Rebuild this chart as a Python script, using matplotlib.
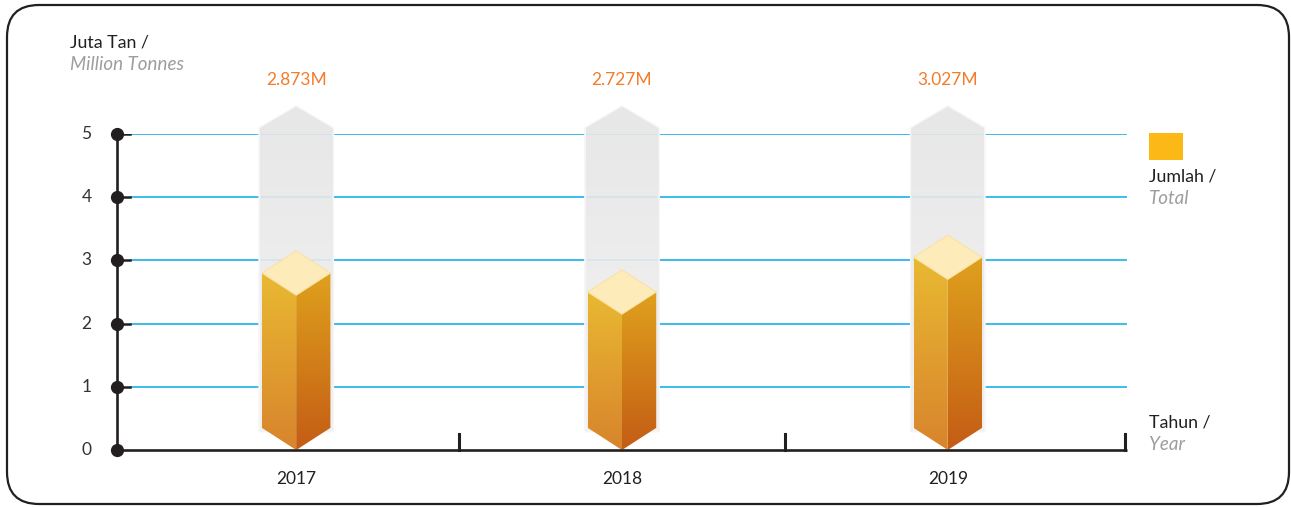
import matplotlib.pyplot as plt
import numpy as np
from matplotlib.patches import Polygon, FancyBboxPatch
from matplotlib.colors import LinearSegmentedColormap
from matplotlib.transforms import IdentityTransform

plt.rcParams['font.family'] = ['Lato', 'DejaVu Sans']

# data
years = ['2017', '2018', '2019']
value_labels = ['2.873M', '2.727M', '3.027M']
bar_tops = [2.80, 2.50, 3.05]      # drawn height of the gold bars (million tonnes)
y_ticks = [0, 1, 2, 3, 4, 5]

W, H = 1291, 507
BLUE = '#2BB8EC'
DARK = '#231F20'
ORANGE = '#F47B2A'
GREY_TXT = '#9D9D9D'

fig = plt.figure(figsize=(W / 100, H / 100), dpi=100)
fig.patch.set_facecolor('white')

# axes: x -0.55..2.55 -> px 117..1127, y 0..5 -> px 450..134
ax = fig.add_axes([117 / W, (H - 450) / H, (1127 - 117) / W, (450 - 134) / H])
ax.set_xlim(-0.55, 2.55)
ax.set_ylim(0, 5)
ax.axis('off')

# rounded frame around the whole chart
frame = FancyBboxPatch((7, 3), 1282, 499, boxstyle='round,pad=0,rounding_size=32',
                       transform=IdentityTransform(), fill=False,
                       edgecolor=DARK, linewidth=1.6)
fig.patches.append(frame)

# grid lines + dots
for t in y_ticks:
    if t > 0:
        ax.plot([-0.51, 2.55], [t, t], color=BLUE, lw=1.3, zorder=1, solid_capstyle='butt')
        ax.plot([-0.55, -0.51], [t, t], color=DARK, lw=1.8, zorder=1)
    ax.plot([-0.55], [t], 'o', color=DARK, markersize=8.5, zorder=6, clip_on=False)
    ax.text(-0.644, t, str(t), ha='center', va='center', fontsize=12.5, color='#333333')

# axes lines
ax.plot([-0.55, -0.55], [0, 5], color=DARK, lw=1.9, zorder=5, clip_on=False)
ax.plot([-0.55, 2.55], [0, 0], color=DARK, lw=1.9, zorder=5, clip_on=False,
        solid_capstyle='butt')
for tx in [0.5, 1.5, 2.545]:
    ax.plot([tx, tx], [0, 0.25], color=DARK, lw=2.2, zorder=5, clip_on=False)

hw = 0.105   # half width of gold bar
gw = 0.112   # half width of grey shadow bar
d = 0.35     # half height of diamond top / bottom bevel

left_cmap = LinearSegmentedColormap.from_list('l', ['#D8842C', '#E9B932'])
right_cmap = LinearSegmentedColormap.from_list('r', ['#C45C15', '#DFA11D'])
grey_cmap = LinearSegmentedColormap.from_list('g', ['#F1F1F1', '#E6E5E6'])
grad = np.linspace(0, 1, 256).reshape(-1, 1)

for i, (yr, lab, h) in enumerate(zip(years, value_labels, bar_tops)):
    x = i
    # grey background bar
    gpts = [(x - gw, 0.3), (x - gw, 5.09), (x, 5.43), (x + gw, 5.09), (x + gw, 0.3)]
    gpoly = Polygon(gpts, closed=True, facecolor='none', edgecolor='#F5F5F5',
                    lw=2, zorder=2, clip_on=False, joinstyle='round')
    ax.add_patch(gpoly)
    im = ax.imshow(grad, extent=[x - gw, x + gw, 0.3, 5.43], origin='lower',
                   aspect='auto', cmap=grey_cmap, alpha=0.9, zorder=2)
    im.set_clip_box(fig.bbox)
    im.set_clip_path(gpoly)

    # gold left face
    lpoly = Polygon([(x - hw, h), (x, h - d), (x, 0), (x - hw, d)], closed=True,
                    facecolor='none', edgecolor='none', zorder=3)
    ax.add_patch(lpoly)
    im = ax.imshow(grad, extent=[x - hw, x, 0, h], origin='lower', aspect='auto',
                   cmap=left_cmap, zorder=3)
    im.set_clip_path(lpoly)

    # gold right face
    rpoly = Polygon([(x, h - d), (x + hw, h), (x + hw, d), (x, 0)], closed=True,
                    facecolor='none', edgecolor='none', zorder=3)
    ax.add_patch(rpoly)
    im = ax.imshow(grad, extent=[x, x + hw, 0, h], origin='lower', aspect='auto',
                   cmap=right_cmap, zorder=3)
    im.set_clip_path(rpoly)

    # top face
    ax.add_patch(Polygon([(x - hw, h), (x, h + d), (x + hw, h), (x, h - d)], closed=True,
                         facecolor='#FDEBBA', edgecolor='#F9E2A6', lw=0.8, zorder=4))

    ax.text(x, 5.85, lab, ha='center', va='center', fontsize=12.5, color=ORANGE)
    ax.text(x, -0.46, yr, ha='center', va='center', fontsize=12.5, color=DARK)

ax.set_xlim(-0.55, 2.55)
ax.set_ylim(0, 5)

# titles and legend texts
fig.text(70 / W, 1 - 42 / H, 'Juta Tan /', ha='left', va='center', fontsize=12.8, color=DARK)
fig.text(70 / W, 1 - 64 / H, 'Million Tonnes', ha='left', va='center', fontsize=13.5,
         color=GREY_TXT, style='italic')

fig.patches.append(plt.Rectangle((1149 / W, 1 - 160 / H), 34 / W, 27 / H,
                                 transform=fig.transFigure, facecolor='#FBB817',
                                 edgecolor='none'))
fig.text(1149 / W, 1 - 177 / H, 'Jumlah /', ha='left', va='center', fontsize=12.8, color=DARK)
fig.text(1149 / W, 1 - 199 / H, 'Total', ha='left', va='center', fontsize=13.5,
         color=GREY_TXT, style='italic')
fig.text(1149 / W, 1 - 422 / H, 'Tahun /', ha='left', va='center', fontsize=12.8, color=DARK)
fig.text(1149 / W, 1 - 444 / H, 'Year', ha='left', va='center', fontsize=13.5,
         color=GREY_TXT, style='italic')

fig.savefig('out.png', dpi=100)
